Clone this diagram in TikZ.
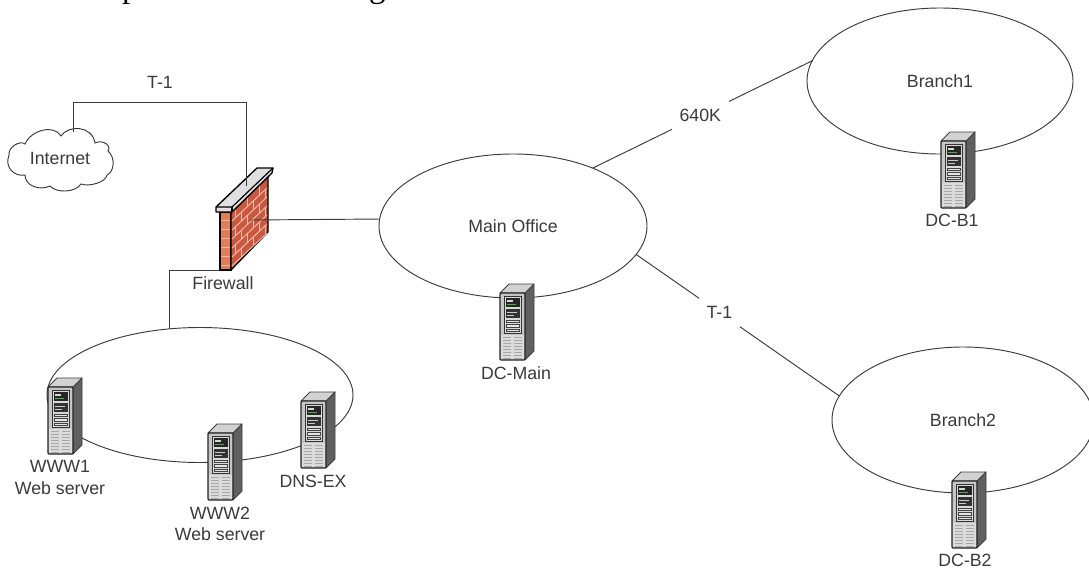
\documentclass[tikz,border=0pt]{standalone}
\usepackage{fontspec}
\setmainfont{Liberation Sans}
\newfontfamily\serifhead{Liberation Serif}
\usetikzlibrary{shapes.geometric}
\def\pxu{0.75pt}
\definecolor{ink}{HTML}{3A3A3A}
\definecolor{brick}{HTML}{C9583F}
\definecolor{brickfront}{HTML}{DE7F58}
\definecolor{mortar}{HTML}{EDB9A6}
\tikzset{
  link/.style={draw=ink,line width=0.7pt},
  net/.style={ellipse,draw=ink,line width=0.7pt,fill=white,inner sep=0pt,outer sep=0pt,text=ink,font=\fontsize{13.3}{15.5}\selectfont},
  lbl/.style={text=ink,inner sep=0pt,align=center,font=\fontsize{13.3}{15.8}\selectfont},
  gaplbl/.style={lbl,fill=white,inner xsep=6pt,inner ysep=6pt},
  server/.pic={
    \fill[gray!75!black,draw=black!75,line width=.7pt,line join=round] (25,0)--(34,-9)--(34,58)--(25,67)--cycle;
    \fill[gray!35,draw=black!75,line width=.7pt,line join=round] (0,0)--(9,-9)--(34,-9)--(25,0)--cycle;
    \fill[gray!45,draw=black!85,line width=.9pt,rounded corners=.8pt] (0,0) rectangle (25,67);
    \fill[gray!30,draw=black!80,line width=.6pt] (4,3) rectangle (21,40);
    \fill[black!85] (5.5,5) rectangle (19.5,14);
    \fill[black!80] (5.5,16) rectangle (19.5,25);
    \fill[white!85!black] (7,7) rectangle (13,8.5);
    \fill[green!30!gray] (7,11) rectangle (16,11.6);
    \fill[white!80!black] (7,18.5) rectangle (17,19.3);
    \fill[white!80!black] (7,22) rectangle (14,22.6);
    \draw[black!75,fill=gray!20,line width=.45pt] (6,27) rectangle (19,29.5);
    \draw[black!75,fill=gray!20,line width=.45pt] (6,31.5) rectangle (19,34);
    \draw[black!75,fill=white!90!black,line width=.45pt] (6,36) rectangle (19,38.5);
    \fill[gray!28] (1,42) rectangle (24,66);
    \foreach \vy in {44,47,...,65} {
      \draw[gray!70,line width=.4pt] (3,\vy)--(11,\vy) (14,\vy)--(22,\vy);
    }
  }
}
\begin{document}
\begin{tikzpicture}[x=\pxu,y=-\pxu]
\useasboundingbox (0,0) rectangle (1089,569);
\fill[white] (0,0) rectangle (1089,569);

% clipped text line at the top edge
\node[anchor=base west,inner sep=0pt,text=black,font=\serifhead\fontsize{24.8}{28}\selectfont] (head) at (7,-3) {relevant portion of its configuration is shown in the};

% network ellipses
\node[net,minimum width=268*\pxu,minimum height=144*\pxu] (main) at (513,226) {Main Office};
\node[net,minimum width=266*\pxu,minimum height=146*\pxu] (branchA) at (940,81) {Branch1};
\node[net,minimum width=262*\pxu,minimum height=146*\pxu] (branchB) at (963,420) {Branch2};
\node[net,minimum width=306*\pxu,minimum height=135*\pxu] (lan) at (200,395) {};

% cloud
\node[inner sep=0pt,minimum size=1pt] (cloudbox) at (60,158) {};
\draw[draw=ink,line width=.7pt,fill=white]
  (25,144) .. controls (31,130) and (54,124) .. (61,136)
  .. controls (68,125) and (92,125) .. (95,143)
  .. controls (103,139) and (112,146) .. (108,151)
  .. controls (116,158) and (114,172) .. (107,175)
  .. controls (106,182) and (90,187) .. (81,184)
  .. controls (75,193) and (56,193) .. (50,186)
  .. controls (40,191) and (25,186) .. (25,175)
  .. controls (15,177) and (4,168) .. (9,155)
  .. controls (8,147) and (20,140) .. (25,144) -- cycle;
\node[lbl] (internet) at (60,158) {Internet};

% firewall
\fill[brickfront,draw=black,line width=.8pt] (220,212) rectangle (231,270);
\foreach \vy in {220,229,...,265} { \draw[mortar,line width=.7pt] (221,\vy)--(230,\vy); }
\fill[brick,draw=black,line width=.9pt,line join=round] (231,212)--(268,177)--(268,232)--(231,270)--cycle;
\foreach \cy in {1,...,6} {
  \draw[mortar,line width=.75pt] (232,{212+9*\cy}) -- (267,{179+9*\cy});
}
\foreach \cy in {0,...,5} {
  \pgfmathsetmacro{\shift}{mod(\cy,2)*6}
  \foreach \k in {0,12,24} {
    \pgfmathsetmacro{\jx}{235+\k+\shift}
    \draw[mortar,line width=.75pt] ({\jx},{212-0.94*(\jx-231)+9*\cy}) -- ({\jx},{212-0.94*(\jx-231)+9*\cy+9});
  }
}
\fill[gray!25,draw=black,line width=1pt,line join=round] (216,207)--(257,168)--(273,168)--(272,173)--(232,212)--(216,212)--cycle;
\draw[black,line width=.9pt] (216,207)--(232,207)--(273,168);
\draw[black,line width=.9pt] (232,207)--(232,212);

\coordinate (fwtop) at (246,186);
\coordinate (fwmid) at (250,220);
\coordinate (fwbase) at (220,270);
\coordinate (inetport) at (73,132);
\coordinate (bend) at (246,102);

% connectors
\draw[link] (inetport) |- (bend) -- (fwtop);
\draw[link] (fwmid) -- (main.177.4);
\draw[link] (fwbase) -| (lan.115.7);
\draw[link] (main.36.8) -- node[gaplbl,pos=.49] (lblA) {640K} (branchA.171.6);
\draw[link] (main.-13) -- node[gaplbl,pos=.41] (lblB) {T-1} (branchB.169.6);

% servers
\pic (sMain) at (500,293) {server};
\pic (sBA) at (941,141) {server};
\pic (sBB) at (952,481) {server};
\pic (sW1) at (48,387) {server};
\pic (sW2) at (208,433) {server};
\pic (sDNS) at (301,401) {server};

% labels
\node[lbl] (tlab) at (160,82) {T-1};
\node[lbl] (fwlab) at (223,283) {Firewall};
\node[lbl] (w1lab) at (60,477.5) {WWW1\\Web server};
\node[lbl] (w2lab) at (220,524) {WWW2\\Web server};
\node[lbl] (dnslab) at (313,481) {DNS-EX};
\node[lbl] (mainlab) at (516,373) {DC-Main};
\node[lbl] (balab) at (952,220) {DC-B1};
\node[lbl] (bblab) at (965,560) {DC-B2};
\end{tikzpicture}
\end{document}
